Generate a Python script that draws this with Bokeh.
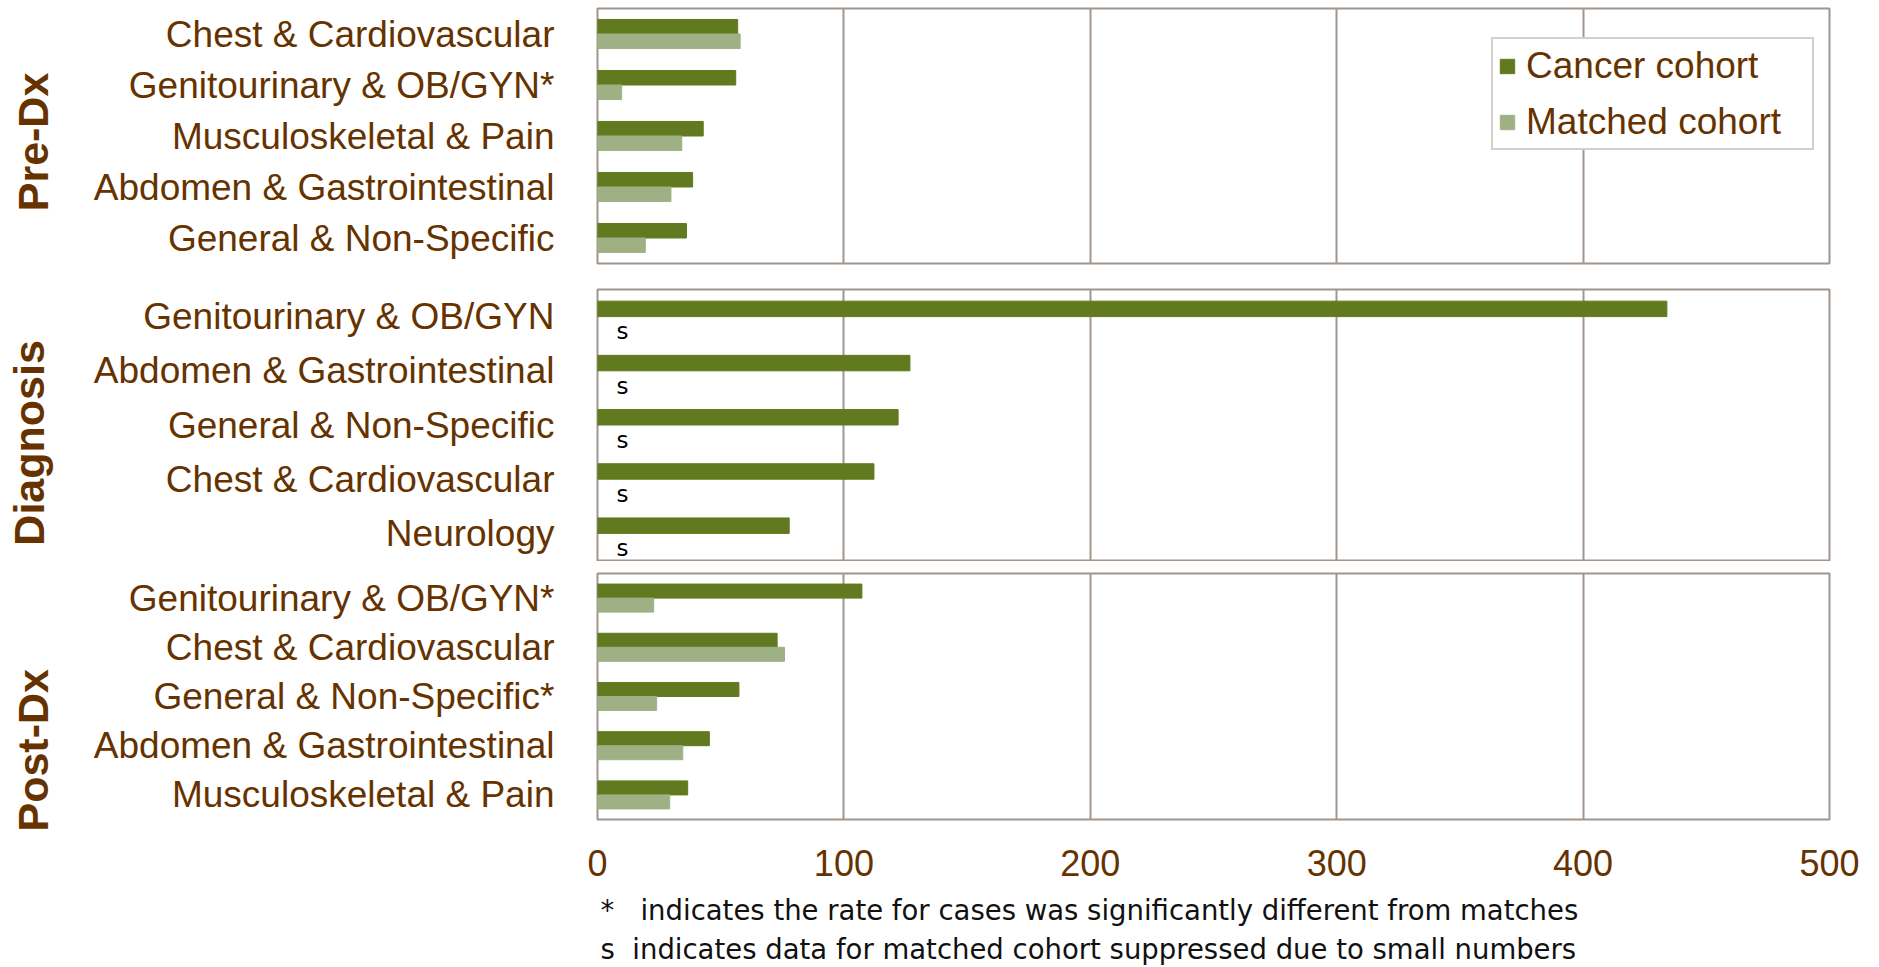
from bokeh.plotting import figure
from bokeh.models import (Range1d, FactorRange, ColumnDataSource, Legend, LegendItem, Title)
from bokeh.transform import dodge
from bokeh.layouts import column
from bokeh.embed import file_html
from bokeh.resources import INLINE
from bokeh.core.properties import value

# ---------------- data ----------------
x_ticks = [0, 100, 200, 300, 400, 500]
series_names = ["Cancer cohort", "Matched cohort"]

pre_group = "Pre-Dx"
pre_cats = ["Chest & Cardiovascular", "Genitourinary & OB/GYN*", "Musculoskeletal & Pain",
            "Abdomen & Gastrointestinal", "General & Non-Specific"]
pre_cancer = [56.9, 56.1, 42.9, 38.6, 36.1]
pre_matched = [57.9, 9.8, 34.2, 29.8, 19.4]
pre_flags = ["", "", "", "", ""]

dx_group = "Diagnosis"
dx_cats = ["Genitourinary & OB/GYN", "Abdomen & Gastrointestinal", "General & Non-Specific",
           "Chest & Cardiovascular", "Neurology"]
dx_cancer = [434.0, 126.8, 122.0, 112.2, 77.8]
dx_matched = [None, None, None, None, None]   # suppressed due to small numbers
dx_flags = ["s", "s", "s", "s", "s"]

post_group = "Post-Dx"
post_cats = ["Genitourinary & OB/GYN*", "Chest & Cardiovascular", "General & Non-Specific*",
             "Abdomen & Gastrointestinal", "Musculoskeletal & Pain"]
post_cancer = [107.3, 72.9, 57.4, 45.4, 36.6]
post_matched = [22.8, 75.9, 24.0, 34.6, 29.3]
post_flags = ["", "", "", "", ""]

NB = "\u00a0"
footnote_star = "*" + NB * 3 + "indicates the rate for cases was significantly different from matches"
footnote_s = "s" + NB * 2 + "indicates data for matched cohort suppressed due to small numbers"

# ---------------- style ----------------
BROWN = "#663300"
CANCER = "#617A20"
MATCHED = "#A0B085"
FRAME = "#A0968E"
LEGEND_BORDER = "#A8A09A"
SANS = "Liberation Sans"
NOTE_FONT = "DejaVu Sans"
W = 1870
BORDER_L = 597
BORDER_R = 41
BAR_H = 0.285


def make_panel(cats, cancer, matched, flags, group, group_pad, group_standoff,
               height, b_top, b_bottom, show_axis):
    p = figure(width=W, height=height, x_range=Range1d(0, 500),
               y_range=FactorRange(factors=cats[::-1]),
               output_backend="svg", toolbar_location=None, title=None,
               min_border_left=BORDER_L, min_border_right=BORDER_R,
               min_border_top=b_top, min_border_bottom=b_bottom)
    p.background_fill_color = "white"
    p.border_fill_color = "white"
    p.outline_line_color = FRAME
    p.outline_line_width = 2

    data = dict(cat=cats, cancer=cancer, flag=flags,
                matched=[float("nan") if m is None else m for m in matched])
    src = ColumnDataSource(data)

    r_c = p.hbar(y=dodge("cat", BAR_H / 2, range=p.y_range), left=0, right="cancer",
                 height=BAR_H, source=src, fill_color=CANCER, line_color=CANCER)
    r_m = p.hbar(y=dodge("cat", -BAR_H / 2, range=p.y_range), left=0, right="matched",
                 height=BAR_H, source=src, fill_color=MATCHED, line_color=MATCHED)
    if any(f for f in flags):
        p.text(x=0, y=dodge("cat", -BAR_H / 2, range=p.y_range), text="flag", source=src,
               x_offset=19, y_offset=7, text_font=value(NOTE_FONT),
               text_font_size="23px", text_color="black",
               text_align="left", text_baseline="middle")

    p.xaxis.ticker = x_ticks
    p.xgrid.grid_line_color = FRAME
    p.xgrid.grid_line_width = 2
    p.ygrid.visible = False

    yax = p.yaxis[0]
    yax.axis_line_color = None
    yax.major_tick_line_color = None
    yax.minor_tick_line_color = None
    yax.major_tick_out = 0
    yax.major_tick_in = 0
    yax.major_label_standoff = 43
    yax.major_label_text_font = SANS
    yax.major_label_text_font_size = "37px"
    yax.major_label_text_color = BROWN
    # group name (trailing no-break spaces nudge it down to match the source layout)
    yax.axis_label = group + NB * group_pad
    yax.axis_label_standoff = group_standoff
    yax.axis_label_text_font = SANS
    yax.axis_label_text_font_size = "43px"
    yax.axis_label_text_font_style = "bold"
    yax.axis_label_text_color = BROWN

    xax = p.xaxis[0]
    if show_axis:
        xax.axis_line_color = None
        xax.major_tick_line_color = None
        xax.minor_tick_line_color = None
        xax.major_tick_out = 0
        xax.major_tick_in = 0
        xax.major_label_standoff = 30
        xax.major_label_text_font = SANS
        xax.major_label_text_font_size = "36px"
        xax.major_label_text_color = BROWN
    else:
        xax.visible = False
    return p, r_c, r_m


p1, rc1, rm1 = make_panel(pre_cats, pre_cancer, pre_matched, pre_flags, pre_group, 1, 34,
                          276, 8, 13, False)
p2, _, _ = make_panel(dx_cats, dx_cancer, dx_matched, dx_flags, dx_group, 3, 38,
                      285, 13, 1, False)
p3, _, _ = make_panel(post_cats, post_cancer, post_matched, post_flags, post_group, 9, 34,
                      330, 12, 72, True)

legend = Legend(items=[LegendItem(label=series_names[0], renderers=[rc1]),
                       LegendItem(label=series_names[1], renderers=[rm1])],
                location=(894, 113), orientation="vertical",
                label_text_font=SANS, label_text_font_size="37px", label_text_color=BROWN,
                glyph_width=18, glyph_height=18, label_standoff=10,
                padding=5, spacing=13, label_height=43, label_width=281, margin=0,
                border_line_color=LEGEND_BORDER, border_line_width=2,
                background_fill_color="white", background_fill_alpha=1.0)
p1.add_layout(legend)

# footnotes strip
p4 = figure(width=W, frame_height=7, x_range=Range1d(0, 1), y_range=Range1d(0, 1),
            output_backend="svg", toolbar_location=None, title=None,
            min_border_left=BORDER_L, min_border_right=BORDER_R,
            min_border_top=0, min_border_bottom=0)
p4.axis.visible = False
p4.grid.visible = False
p4.outline_line_color = None
p4.background_fill_color = "white"
p4.border_fill_color = "white"
note_kw = dict(align="left", offset=3, standoff=0, text_font=NOTE_FONT,
               text_font_size="27.5px", text_font_style="normal", text_color="#111111")
p4.add_layout(Title(text=footnote_star, vertical_align="bottom", **note_kw), "above")
p4.add_layout(Title(text=footnote_s, vertical_align="top", **note_kw), "below")

layout = column(p1, p2, p3, p4)
open("out.html", "w").write(file_html(layout, INLINE))
